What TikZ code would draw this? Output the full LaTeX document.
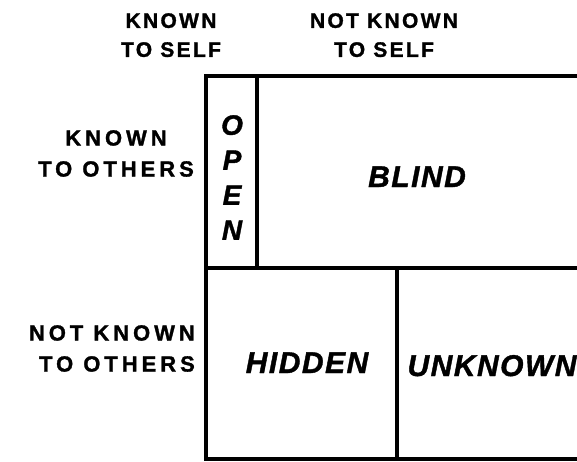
\documentclass[tikz,border=0pt]{standalone}
\usepackage{fontspec}
\setmainfont{Liberation Sans}
\newfontfamily\colfont{Liberation Sans Bold}[FakeBold=1.3,LetterSpace=11]
\newfontfamily\rowfont{Liberation Sans Bold}[FakeBold=1.3,LetterSpace=18]
\newfontfamily\panefont{Liberation Sans Bold Italic}[FakeBold=1.3,LetterSpace=5]
\usetikzlibrary{positioning}

\begin{document}
\begin{tikzpicture}[
  x=1pt, y=-1pt,
  frame/.style={line width=3.8pt, line join=miter},
  colhead/.style={font=\colfont\fontsize{21}{29}\selectfont,
    align=center, inner sep=0pt, anchor=north},
  rowhead/.style={font=\rowfont\fontsize{22}{31}\selectfont,
    inner sep=0pt},
  pane/.style={font=\panefont\fontsize{30}{36}\selectfont,
    inner sep=0pt, anchor=base}
]
\useasboundingbox (0,0) rectangle (577,461);

% the window
\draw[frame] (577,76) -| (206,459) -- (577,459);
\draw[frame] (257,76) -- (257,268);
\draw[frame] (206,268) -- (577,268);
\draw[frame] (397,268) -- (397,459);

% headings
\node[colhead] (kself) at (171,13) {KNOWN\\TO SELF};
\node[colhead] (nkself) at (384,13) {NOT KNOWN\\TO SELF};
\node[rowhead, align=center, anchor=north] (kothers) at (116,130) {KNOWN\\TO OTHERS};
\node[rowhead, align=right, anchor=north east] (nkothers) at (195,325) {NOT KNOWN\\TO OTHERS};

% the four panes
\node[font=\panefont\fontsize{28}{35}\selectfont, align=center,
  inner sep=0pt, anchor=north] (open) at (232,115) {O\\P\\E\\N};
\node[pane] (blind) at (417,187) {BLIND};
\node[pane] (hidden) at (307,373) {HIDDEN};
\node[pane] (unknown) at (492,376) {UNKNOWN};
\end{tikzpicture}
\end{document}
